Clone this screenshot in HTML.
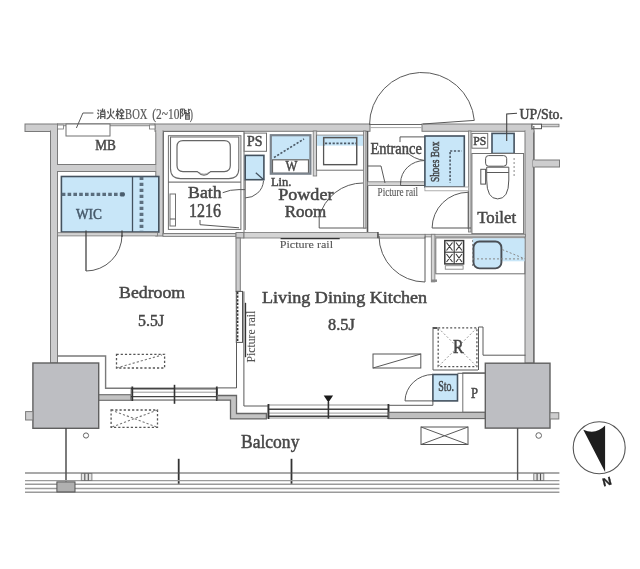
<!DOCTYPE html>
<html><head><meta charset="utf-8">
<style>
html,body{margin:0;padding:0;background:#fff;}
svg{display:block;filter:blur(0.6px);}
text{font-family:"Liberation Serif",serif;fill:#474747;stroke:#474747;stroke-width:0.5;}
text.s{stroke-width:0.1;fill:#555;stroke:#555;}
text.a{stroke-width:0.2;fill:#575757;stroke:#575757;}
.w{fill:#cdcdce;stroke:#7a7a7a;stroke-width:1;}
.wl{fill:#d4d4d4;stroke:#777;stroke-width:0.8;}
.p{fill:#bdbec2;stroke:#606060;stroke-width:1.4;}
.l{fill:none;stroke:#5a5a5a;stroke-width:1;}
.lt{fill:none;stroke:#999;stroke-width:1;}
.bl{fill:#c8e6f8;stroke:#44525f;stroke-width:1.6;}
.bx{fill:#fff;stroke:#707070;stroke-width:1;}
.d{fill:none;stroke:#4d5b68;stroke-width:1.6;stroke-dasharray:2.2 1.6;}
.dg{fill:none;stroke:#888;stroke-width:1;stroke-dasharray:2 2;}
</style></head>
<body>
<svg width="640" height="569" viewBox="0 0 640 569">
<rect width="640" height="569" fill="#fff"/>

<!-- ===== TOP EXTERIOR WALL ===== -->
<rect class="w" x="25" y="124" width="32.5" height="7.5"/>
<rect class="wl" x="57.5" y="123.8" width="97.5" height="2"/>
<rect class="w" x="155" y="124" width="215" height="7.3"/>
<rect class="w" x="422" y="124" width="110" height="7.3"/>
<line x1="370" y1="124.5" x2="422" y2="124.5" stroke="#666" stroke-width="1"/>
<line x1="370" y1="127.6" x2="422" y2="127.6" stroke="#aaa" stroke-width="1"/>
<rect class="wl" x="532" y="124.2" width="27" height="2.6"/>
<rect x="532" y="124.2" width="9.5" height="4.5" fill="#fff" stroke="#555" stroke-width="1"/>
<rect x="57.5" y="125" width="6" height="4" fill="#fff" stroke="#777" stroke-width="0.8"/>
<rect x="149.5" y="125" width="5.5" height="4" fill="#fff" stroke="#777" stroke-width="0.8"/>
<!-- left vertical wall -->
<rect class="w" x="50.5" y="131" width="7" height="232"/>
<!-- right vertical wall -->
<rect class="w" x="525" y="131" width="9" height="232"/>
<path d="M533.8,126 V160 M533.8,167 V363" stroke="#666" stroke-width="1.2"/>
<rect class="w" x="533" y="160" width="26.5" height="7"/>

<!-- ===== MB ===== -->
<rect class="w" x="57.5" y="164.5" width="98.8" height="7"/>
<rect class="w" x="155.8" y="131" width="7.2" height="105"/>
<g fill="#cdcdce">
<rect x="51" y="130" width="6" height="2.5"/>
<rect x="156.3" y="130" width="6.2" height="2.5"/>
<rect x="525.5" y="130" width="8" height="2.5"/>
<rect x="533" y="160.5" width="2" height="6"/>
<rect x="56.5" y="165" width="2" height="6"/>
<rect x="155.3" y="165" width="1.2" height="6"/>
</g>
<rect class="bx" x="66" y="124" width="44" height="12" stroke="#666"/>
<text x="95.3" y="150.3" font-size="15" textLength="20.6" lengthAdjust="spacingAndGlyphs">MB</text>

<!-- annotation -->
<polyline class="l" points="76.4,128 82.9,113 93.4,113"/>
<g transform="translate(97.1,108.6) scale(1,1.05)" stroke="#555" stroke-width="1.25" fill="none">
<!-- 消 -->
<path d="M0.5,1 L2,2.5 M0.3,4 L1.8,5.3 M0.3,9.8 L2.2,6.8 M5.5,0 L5.5,3 M3.5,1 L4.2,2.7 M7.6,0.8 L6.9,2.6 M3.6,3.2 H7.8 V9.8 M3.6,3.2 V9.8 M3.6,5.5 H7.8 M3.6,7.6 H7.8"/>
<!-- 火 -->
<path d="M13.5,0 V5 Q13,8.5 9.5,9.9 M13.5,5 Q14.5,8.5 17.8,9.9 M10.5,2.3 L11.5,4.6 M16.8,2 L15.6,4.6"/>
<!-- 栓 -->
<path d="M20.5,0 V9.9 M18.9,2.7 H22.2 M20.5,3.5 L18.7,7.5 M20.5,4 L22,6 M24.3,0.3 L22.3,3.7 M24.3,0.3 L27.2,3.7 M22.8,4.2 H26.3 M24.5,4.2 V9.5 M22.6,6.8 H26.5 M22.2,9.6 H27.5"/>
</g>
<text class="a" x="125.1" y="119.2" font-size="14.5" textLength="22.3" lengthAdjust="spacingAndGlyphs">BOX</text>
<text class="a" x="152.3" y="119.2" font-size="14.5" textLength="27.1" lengthAdjust="spacingAndGlyphs">(2~10</text>
<g transform="translate(180,108.6) scale(1,1.05)" stroke="#555" stroke-width="1.15" fill="none">
<!-- 階 -->
<path d="M0.5,0.3 V10 M0.5,0.5 H3 L1.8,3.5 L3.2,5.8 L1.6,7.5 M4.5,0.2 V3.5 H6.8 M4.5,2 H6.5 M8.5,0.2 V3 Q8.7,3.8 10,3.8 M8.5,1.8 L10,1 M4,4.8 L9.8,4.8 M5.6,6.2 H9.3 V10 H5.6 Z M5.6,8 H9.3"/>
</g>
<text class="a" x="189.8" y="119" font-size="14.5" textLength="3.2" lengthAdjust="spacingAndGlyphs">)</text>

<!-- ===== WIC ===== -->
<rect class="bl" x="61.4" y="176.5" width="97.4" height="55.5" stroke-width="1.4"/>
<line x1="132.5" y1="177" x2="132.5" y2="232" stroke="#44525f" stroke-width="1.3"/>
<line x1="61.8" y1="194.4" x2="121" y2="194.4" stroke="#5a6d7d" stroke-width="3.4" stroke-dasharray="3.6 2.2"/>
<path d="M120.5,192.3 L124,192.3 Q126,194.4 124,196.5 L120.5,196.5 Z" fill="#4a5d6d"/>
<line x1="141.5" y1="176.8" x2="141.5" y2="232" stroke="#5d7080" stroke-width="3.8" stroke-dasharray="3.2 2.8"/>
<text x="75.9" y="218.75" font-size="15" textLength="26" lengthAdjust="spacingAndGlyphs" style="fill:#46596a;stroke:#46596a">WIC</text>
<!-- wall under WIC -->
<rect class="wl" x="57.5" y="232.7" width="100" height="3.2"/>
<!-- WIC door -->
<line x1="86" y1="230.6" x2="86" y2="271" stroke="#444" stroke-width="1.3"/>
<path class="l" d="M86,271 A36,36 0 0 0 122,235"/>
<line x1="122" y1="230.6" x2="122" y2="237" stroke="#444" stroke-width="1.3"/>

<!-- ===== BATH ===== -->
<rect class="bx" x="163.5" y="131.5" width="80.5" height="102"/>
<rect class="bx" x="168.4" y="135.7" width="72.5" height="93.7"/>
<path d="M170.5,137 H238.8 V168.6 Q238.8,178.6 228.8,178.6 H180.5 Q170.5,178.6 170.5,168.6 Z" fill="#fff" stroke="#6a6a6a" stroke-width="1.1"/>
<path d="M183,140.7 H224.3 Q230.3,140.7 230.3,146.7 V165.6 Q230.3,171.6 224.3,171.6 H210.6 Q204,178.5 197.3,171.6 H183 Q177,171.6 177,165.6 V146.7 Q177,140.7 183,140.7 Z" fill="#fff" stroke="#666" stroke-width="1.2"/>
<path d="M199,172.5 Q204,176 209,172.5" fill="none" stroke="#999" stroke-width="1"/>
<line class="l" x1="168.4" y1="182.1" x2="240.9" y2="182.1"/>
<rect class="bx" x="170" y="194" width="5.5" height="32"/>
<line class="l" x1="170" y1="219" x2="175.5" y2="219"/>
<text x="188.1" y="198.3" font-size="17" textLength="33.5" lengthAdjust="spacingAndGlyphs">Bath</text>
<text x="189.1" y="216.6" font-size="18" textLength="32" lengthAdjust="spacingAndGlyphs">1216</text>
<path class="l" d="M222.7,192.7 Q230,189.5 239,189.6 L245,189.6"/>
<polyline class="l" points="200,220 200,224.7 239,227.8"/>

<!-- PS / Lin -->
<rect class="bx" x="244.2" y="133.1" width="22.3" height="18.2"/>
<text x="246.9" y="146.3" font-size="14" textLength="15.5" lengthAdjust="spacingAndGlyphs">PS</text>
<rect class="bl" x="245.2" y="155.4" width="18.7" height="24.3" stroke-width="2"/>
<line x1="255.8" y1="172.7" x2="264" y2="180" stroke="#44525f" stroke-width="1.2"/>
<line class="l" x1="245.2" y1="180" x2="245.2" y2="230"/>
<path class="l" d="M245.2,197.9 A18.3,18.3 0 0 0 263.5,181"/>
<text x="270.9" y="185.6" font-size="13" textLength="20.5" lengthAdjust="spacingAndGlyphs">Lin.</text>

<!-- W (washer) -->
<rect x="271" y="135.2" width="40" height="38.5" fill="#fff"/>
<rect x="271.5" y="135.5" width="39" height="24.3" fill="#c8e6f8"/>
<rect x="272.5" y="159.8" width="36" height="13.5" fill="#fff" stroke="#666" stroke-width="1.2"/>
<rect x="270.8" y="135.2" width="39.6" height="38.5" fill="none" stroke="#7a838c" stroke-width="2.2"/>
<line class="d" x1="274" y1="157.5" x2="304" y2="139" stroke-width="1.3" stroke="#6a7a8a"/>
<text x="285.4" y="171.1" font-size="15" textLength="11.9" lengthAdjust="spacingAndGlyphs">W</text>
<rect class="wl" x="313.2" y="131" width="3.5" height="45"/>

<!-- vanity -->
<rect class="bx" x="316.5" y="135.2" width="47.5" height="35"/>
<rect x="317" y="135.6" width="46.5" height="10.2" fill="#c8e6f8"/>
<rect x="323.7" y="137.6" width="33" height="27" fill="none" stroke="#555" stroke-width="1.5"/>
<rect x="324.5" y="145.8" width="31.4" height="18" fill="#fff"/>
<line class="d" x1="325" y1="143.4" x2="356" y2="143.4" stroke-width="1"/>

<text x="278.2" y="200.1" font-size="17.5" textLength="55.3" lengthAdjust="spacingAndGlyphs">Powder</text>
<text x="284.8" y="216.6" font-size="17" textLength="41.5" lengthAdjust="spacingAndGlyphs">Room</text>
<!-- powder door -->
<path class="l" d="M319.2,217.4 A45,45 0 0 1 363,183"/>
<polyline class="l" points="319.2,217.4 319.2,228 366.5,228"/>

<!-- ===== ENTRANCE ===== -->
<rect class="wl" x="363.4" y="131" width="2.5" height="97"/>
<line x1="367.5" y1="131" x2="367.5" y2="232" stroke="#555" stroke-width="1.6"/>
<path class="l" d="M369.5,125 A52.5,52.5 0 0 1 474.3,120.4" stroke-width="1.2"/>
<line class="l" x1="474.3" y1="120.4" x2="422.8" y2="124"/>
<text x="370.5" y="153.8" font-size="17.5" textLength="51.3" lengthAdjust="spacingAndGlyphs">Entrance</text>
<text class="s" x="377.6" y="195.8" font-size="11.5" textLength="40.5" lengthAdjust="spacingAndGlyphs" style="fill:#555">Picture rail</text>
<rect class="wl" x="367.5" y="181.8" width="57.5" height="3.8"/>
<!-- entrance step -->
<polyline class="l" points="368,166 381,166 385,183"/>
<polyline class="l" points="400,142.1 400,136.9 424.8,136.9"/>
<path class="l" d="M400.6,183 A24.2,22.5 0 0 1 424.8,160.5"/>
<path class="l" d="M406.5,151.5 Q413,159 424.8,160.5"/>
<polyline class="l" points="400.6,181 400.6,185.5 424.8,185.5"/>

<!-- shoes box -->
<rect class="bl" x="424.9" y="136" width="39.4" height="51" stroke-width="1.8"/>
<line class="d" x1="450.1" y1="152" x2="450.1" y2="183" stroke-width="1.1"/>
<line class="d" x1="450.1" y1="151" x2="461.8" y2="151" stroke-width="0.9"/>
<text transform="translate(439.1,182.1) rotate(-90)" font-size="13" textLength="40.6" lengthAdjust="spacingAndGlyphs" style="fill:#3c4a56">Shoes Box</text>
<rect class="wl" x="468.5" y="131" width="2.5" height="101"/>
<rect x="424.9" y="187" width="43.6" height="3.8" fill="#fff" stroke="#999" stroke-width="0.8"/>
<path class="l" d="M432.1,228 A36,36 0 0 1 468,192.3"/>
<line x1="432.1" y1="228" x2="471" y2="228" stroke="#555" stroke-width="1.2"/>
<line x1="468.3" y1="191.5" x2="468.3" y2="229" stroke="#6a6a6a" stroke-width="1.3"/>

<!-- ===== TOILET ===== -->
<rect class="bx" x="471.9" y="133.4" width="15.8" height="14.8"/>
<text x="473.2" y="145" font-size="12.5" textLength="13" lengthAdjust="spacingAndGlyphs">PS</text>
<rect class="bl" x="492" y="133.4" width="22.1" height="20.1" stroke-width="2"/>
<polyline points="506.7,141 506.7,114 517,113.2" fill="none" stroke="#444" stroke-width="1.1"/>
<text x="519.6" y="119.1" font-size="14" textLength="43.4" lengthAdjust="spacingAndGlyphs">UP/Sto.</text>
<rect class="bx" x="471.9" y="153.5" width="51.7" height="80.2"/>
<rect x="485.6" y="155.6" width="21.1" height="10.6" rx="3" fill="#fff" stroke="#555"/>
<rect x="480.8" y="169.3" width="4.8" height="14.8" fill="#fff" stroke="#555"/>
<path d="M486.7,167.2 H508.8 V180 Q508.8,198.9 497.7,198.9 Q486.7,198.9 486.7,180 Z" fill="#fff" stroke="#555"/>
<line class="l" x1="486.7" y1="172.5" x2="508.8" y2="172.5"/>
<line class="dg" x1="514.1" y1="158" x2="514.1" y2="176"/>
<text x="477.2" y="223.2" font-size="17.5" textLength="39" lengthAdjust="spacingAndGlyphs">Toilet</text>

<!-- ===== HORIZONTAL INTERIOR WALL (y~234) ===== -->
<rect class="wl" x="163" y="233.5" width="73" height="3"/>
<rect class="wl" x="243.8" y="232.5" width="134" height="5.5"/>
<rect class="wl" x="425" y="234.3" width="100.5" height="2.6"/>
<rect class="wl" x="378" y="234.3" width="47" height="3.8"/>
<rect class="w" x="236" y="232.5" width="7.8" height="5.5"/>
<text class="s" x="279.7" y="247.5" font-size="11" textLength="53.4" lengthAdjust="spacingAndGlyphs" style="fill:#555">Picture rail</text>
<line x1="280.6" y1="238.6" x2="339.7" y2="238.6" stroke="#333" stroke-width="1.4"/>

<!-- LDK door -->
<line x1="378" y1="232" x2="378" y2="238" stroke="#444" stroke-width="1.2"/>
<path class="l" d="M379,236 A46,46 0 0 0 425,282"/>
<line class="l" x1="425" y1="236.5" x2="425" y2="282"/>

<!-- ===== KITCHEN ===== -->
<rect class="bx" x="435.8" y="237.9" width="89" height="35.9"/>
<rect class="wl" x="431.3" y="234.3" width="3.6" height="47.6"/>
<rect x="431" y="279.5" width="6" height="2.4" fill="#888"/>
<rect x="472.6" y="238.3" width="52" height="23" fill="#c8e6f8"/>
<rect x="444.8" y="240.6" width="18.8" height="23.3" fill="#fff" stroke="#3a3a3a" stroke-width="1.5"/>
<rect x="445.3" y="265.7" width="17.8" height="3.5" fill="#fff" stroke="#888" stroke-width="0.9"/>
<g stroke="#3a3a3a" stroke-width="1.1" fill="none">
<line x1="454.2" y1="240.6" x2="454.2" y2="263.9"/><line x1="444.8" y1="252.2" x2="463.6" y2="252.2"/>
<path d="M446.5,242.5 L452.5,250.5 M452.5,242.5 L446.5,250.5 M456,242.5 L462,250.5 M462,242.5 L456,250.5 M446.5,254 L452.5,262 M452.5,254 L446.5,262 M456,254 L462,262 M462,254 L456,262"/>
</g>
<rect x="473.5" y="241.5" width="27.9" height="26.9" rx="6" fill="#c8e6f8" stroke="#4a4f55" stroke-width="1.9"/>
<line class="dg" x1="473" y1="258.9" x2="525" y2="258.9" stroke="#556"/>
<line class="dg" x1="502.3" y1="249.6" x2="525" y2="258.9" stroke="#556"/>
<line class="dg" x1="472.6" y1="240" x2="472.6" y2="268"/>

<!-- ===== BEDROOM / LDK partition ===== -->
<rect class="w" x="236" y="238" width="4.3" height="53.4"/>
<rect x="236.3" y="291.4" width="6.2" height="51" fill="#fff" stroke="#555" stroke-width="1"/>
<line x1="237.6" y1="292" x2="237.6" y2="342" stroke="#333" stroke-width="1.6" stroke-dasharray="2.2 1.4"/>
<line x1="245.5" y1="302.8" x2="245.5" y2="357.2" stroke="#333" stroke-width="1.3"/>
<text class="s" transform="translate(255.2,362.5) rotate(-90)" font-size="11.5" textLength="51.8" lengthAdjust="spacingAndGlyphs" style="fill:#555">Picture rail</text>
<line class="l" x1="236.5" y1="342" x2="236.5" y2="388"/>
<line class="l" x1="243.9" y1="291.4" x2="243.9" y2="406"/>

<!-- labels -->
<text x="119.1" y="298.2" font-size="17" textLength="66.1" lengthAdjust="spacingAndGlyphs">Bedroom</text>
<text x="138.1" y="326.3" font-size="16" textLength="26" lengthAdjust="spacingAndGlyphs">5.5J</text>
<text x="262" y="303.1" font-size="17" textLength="165.1" lengthAdjust="spacingAndGlyphs">Living Dining Kitchen</text>
<text x="328.1" y="329.8" font-size="16.5" textLength="26.7" lengthAdjust="spacingAndGlyphs">8.5J</text>

<!-- AC units -->
<rect x="116.5" y="354.3" width="48.1" height="13.7" fill="none" stroke="#555" stroke-width="1.3" stroke-dasharray="2.2 2"/>
<line x1="116.5" y1="368" x2="162" y2="355" stroke="#777" stroke-width="1.1" stroke-dasharray="2.2 2"/>
<rect x="373" y="354" width="47.8" height="14" fill="#fff" stroke="#555"/>
<line class="l" x1="373" y1="368" x2="420.8" y2="354"/>

<!-- R box -->
<polyline class="l" points="433,327 433,370 478,370"/>
<rect x="433" y="327" width="4.5" height="2" fill="#555"/>
<rect x="438.2" y="327.9" width="38.7" height="38.7" fill="none" stroke="#555" stroke-width="1.3" stroke-dasharray="2 2"/>
<line x1="438.2" y1="327.9" x2="476.9" y2="366.6" stroke="#999" stroke-dasharray="2 2"/>
<line x1="476.9" y1="327.9" x2="438.2" y2="366.6" stroke="#999" stroke-dasharray="2 2"/>
<text x="453.1" y="353.4" font-size="18" textLength="10.6" lengthAdjust="spacingAndGlyphs">R</text>
<polyline class="l" points="478.5,327 483,327 483,355.2 525.5,355.2"/>
<line class="l" x1="478.5" y1="327" x2="478.5" y2="370"/>

<!-- Sto. -->
<rect class="bl" x="432.9" y="374.5" width="24.6" height="26.4" stroke-width="1.9"/>
<text x="438.2" y="391.2" font-size="14" textLength="15.8" lengthAdjust="spacingAndGlyphs" style="fill:#3c4a56">Sto.</text>
<path class="l" d="M405,400.9 A28,27 0 0 1 432.9,374.5"/>
<line class="l" x1="405" y1="400.9" x2="432.9" y2="400.9"/>
<polyline class="l" points="432.9,400.9 432.9,405.3 389,405.3"/>
<rect class="bx" x="462.8" y="372.8" width="22.9" height="39.5"/>
<line class="l" x1="457.5" y1="373.3" x2="485.7" y2="373.3"/>
<text x="471.1" y="398.3" font-size="14.5" textLength="7" lengthAdjust="spacingAndGlyphs">P</text>

<!-- ===== BEDROOM bottom boundary ===== -->
<polyline points="57.5,356 105.6,356 105.6,388.2 131,388.2" fill="none" stroke="#7a7a7a" stroke-width="1.4"/>
<rect x="98" y="394.7" width="33" height="5.6" fill="#c2c2c2" stroke="#6a6a6a" stroke-width="1.1"/>

<!-- window 1 -->
<rect x="131" y="387.9" width="86.3" height="12.4" fill="#fff" stroke="#777" stroke-width="0.8"/>
<line x1="131" y1="388.8" x2="175" y2="388.8" stroke="#444" stroke-width="1.4"/>
<line x1="175" y1="388.8" x2="217.3" y2="388.8" stroke="#555" stroke-width="1.2"/>
<line x1="131" y1="392.2" x2="217.3" y2="392.2" stroke="#999" stroke-width="1"/>
<line x1="131" y1="396.6" x2="217.3" y2="396.6" stroke="#444" stroke-width="1.4"/>
<line x1="131" y1="399.7" x2="217.3" y2="399.7" stroke="#999" stroke-width="1"/>
<line x1="132.3" y1="386.5" x2="132.3" y2="401" stroke="#333" stroke-width="1.8"/>
<line x1="174.5" y1="384.8" x2="174.5" y2="403.8" stroke="#333" stroke-width="1.6"/>
<line x1="216.8" y1="386.5" x2="216.8" y2="401" stroke="#333" stroke-width="1.8"/>
<polyline class="l" points="217.3,387.9 236.5,387.9"/>
<!-- step wall -->
<path d="M217.3,395.5 L236.5,395.5 L236.5,413.5 L266.4,413.5 L266.4,418.9 L230.5,418.9 L230.5,400.2 L217.3,400.2 Z" fill="#c4c4c4" stroke="#666" stroke-width="1.3"/>
<polyline class="l" points="243.9,406 268,406"/>
<!-- window 2 -->
<rect x="268" y="405" width="120.9" height="13" fill="#fff" stroke="#777" stroke-width="0.8"/>
<line x1="268" y1="409.2" x2="388.9" y2="409.2" stroke="#444" stroke-width="1.4"/>
<line x1="268" y1="413.1" x2="388.9" y2="413.1" stroke="#999" stroke-width="1"/>
<line x1="268" y1="416.3" x2="388.9" y2="416.3" stroke="#444" stroke-width="1.4"/>
<line x1="268.5" y1="404" x2="268.5" y2="419" stroke="#333" stroke-width="1.8"/>
<line x1="388.4" y1="404" x2="388.4" y2="419" stroke="#333" stroke-width="1.8"/>
<line x1="328.4" y1="402" x2="328.4" y2="418.6" stroke="#333" stroke-width="1.6"/>
<polygon points="323.7,395.6 333.1,395.6 328.4,402.4" fill="#1a1a1a"/>
<rect x="388.9" y="412.3" width="96.5" height="6.3" fill="#bebebe" stroke="#666" stroke-width="1.1"/>

<!-- ===== PILLARS ===== -->
<rect class="p" x="32.9" y="363" width="65.8" height="65.3"/>
<rect class="w" x="25.6" y="411.6" width="7.3" height="8.4"/>
<rect class="p" x="485.3" y="363.2" width="64.7" height="64.9"/>
<rect class="w" x="550" y="412.7" width="8.8" height="6.3"/>

<!-- outdoor units -->
<rect x="111.1" y="410" width="46.4" height="17.3" fill="none" stroke="#555" stroke-width="1.3" stroke-dasharray="2.2 2"/>
<line x1="111.1" y1="410" x2="157.5" y2="427.3" stroke="#777" stroke-width="1.1" stroke-dasharray="2.2 2"/>
<line x1="157.5" y1="410" x2="111.1" y2="427.3" stroke="#777" stroke-width="1.1" stroke-dasharray="2.2 2"/>
<rect x="421" y="427" width="47" height="17.5" fill="#fff" stroke="#555"/>
<line class="l" x1="421" y1="427" x2="468" y2="444.5"/>
<line class="l" x1="468" y1="427" x2="421" y2="444.5"/>

<circle cx="86" cy="435.5" r="2.6" fill="none" stroke="#666"/>
<circle cx="538.7" cy="435.5" r="2.8" fill="none" stroke="#666"/>

<!-- balcony -->
<text x="241" y="447.5" font-size="19" textLength="58.4" lengthAdjust="spacingAndGlyphs">Balcony</text>
<line x1="66" y1="428" x2="66" y2="481.5" stroke="#444" stroke-width="1.4"/>
<line x1="517.6" y1="428" x2="517.6" y2="480.6" stroke="#555" stroke-width="1.4"/>
<line x1="178.7" y1="458.8" x2="178.7" y2="484.3" stroke="#333" stroke-width="1.8"/>
<line x1="291.5" y1="458.8" x2="291.5" y2="484.3" stroke="#333" stroke-width="1.8"/>
<line x1="25" y1="473" x2="559.4" y2="473" stroke="#555" stroke-width="1.1"/>
<g stroke="#9a9a9a" stroke-width="1.4">
<line x1="25" y1="480.6" x2="559.4" y2="480.6"/>
<line x1="25" y1="484.3" x2="559.4" y2="484.3"/>
<line x1="25" y1="488.5" x2="559.4" y2="488.5"/>
<line x1="25" y1="492.2" x2="559.4" y2="492.2"/>
</g>
<rect x="56.9" y="481.9" width="18.1" height="10" fill="#b0b0b0" stroke="#555"/>
<g fill="#e4e4e4" stroke="#777" stroke-width="0.9">
<rect x="81.3" y="473.5" width="10.6" height="7"/>
<rect x="533.8" y="473.5" width="10" height="7"/>
</g>
<g stroke="#555" stroke-width="1.1">
<line x1="84.8" y1="473.5" x2="84.8" y2="480.5"/><line x1="88.3" y1="473.5" x2="88.3" y2="480.5"/>
<line x1="537.1" y1="473.5" x2="537.1" y2="480.5"/><line x1="540.5" y1="473.5" x2="540.5" y2="480.5"/>
</g>

<!-- compass -->
<circle cx="599.2" cy="447.7" r="26" fill="#fff" stroke="#555" stroke-width="1.1"/>
<path d="M583.3,429.8 Q596,435 605.1,425.5 L605.1,471.9 Z" fill="#1e1e1e"/>
<text transform="rotate(-14 607 481)" x="602.3" y="485.6" font-size="11.5" font-weight="bold" textLength="9.1" lengthAdjust="spacingAndGlyphs" style="font-family:'Liberation Sans',sans-serif;fill:#222;stroke:#222;stroke-width:0.3">N</text>
</svg>
</body></html>
